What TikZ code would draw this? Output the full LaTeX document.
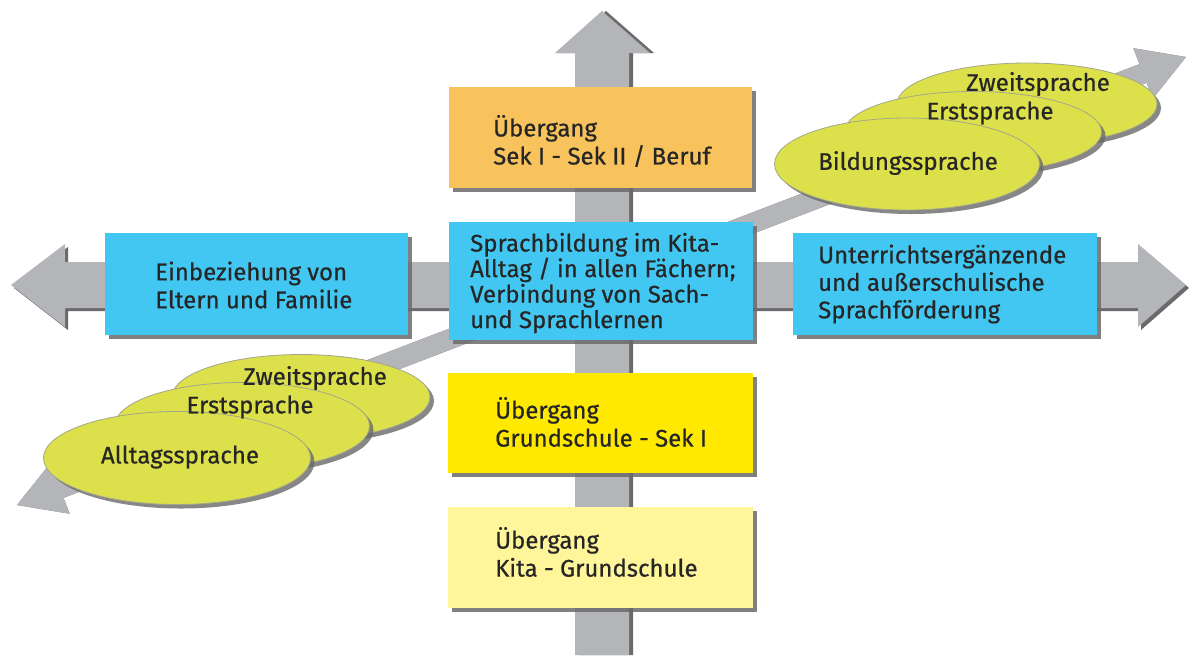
\documentclass[tikz,border=0pt]{standalone}
\usepackage{fontspec}
\setmainfont[FakeBold=0.6]{Fira Sans}
\usetikzlibrary{calc,shadows,shapes.geometric}
\definecolor{arrc}{HTML}{B4B5B9}
\definecolor{shc}{HTML}{6A6A6A}
\definecolor{txtc}{HTML}{262626}
\definecolor{orangec}{HTML}{F8C35C}
\definecolor{cyanc}{HTML}{42C7F2}
\definecolor{yellowc}{HTML}{FFE900}
\definecolor{lightyc}{HTML}{FFF69B}
\definecolor{ellc}{HTML}{DCE04B}
\definecolor{elld}{HTML}{A4A68A}
\begin{document}
\begin{tikzpicture}[x=1pt,y=-1pt,
  txt/.style={font=\fontsize{24}{28}\selectfont, text=txtc, inner sep=0pt},
  boxtext/.style={txt, anchor=west, align=left},
  box/.style={rectangle, draw=none, inner sep=0pt,
    drop shadow={shadow xshift=4pt, shadow yshift=-4pt, fill=shc, opacity=0.85}},
  ell/.style={ellipse, draw=elld, line width=0.8pt, fill=ellc, inner sep=0pt,
    drop shadow={shadow xshift=4pt, shadow yshift=-4pt, fill=shc, opacity=0.8}},
  elltext/.style={txt}
]
\useasboundingbox[fill=white] (0,0) rectangle (1190,659);

% ---------- horizontal arrow ----------
\foreach \dx/\col in {3/shc, 0/arrc}{
  \fill[\col, shift={(\dx,\dx)}] (11,285) -- (65,244) -- (65,262) -- (1138,262) -- (1138,244)
    -- (1186,285) -- (1138,327) -- (1138,308) -- (65,308) -- (65,327) -- cycle;
}
% ---------- vertical arrow ----------
\foreach \dx/\col in {4/shc, 0/arrc}{
  \fill[\col, shift={(\dx,\dx*0)}] (575,655) -- (575,53) -- (555,53) -- (602,11) -- (650,53)
    -- (629,53) -- (629,655) -- cycle;
}
% ---------- diagonal arrow ----------
\coordinate (dA) at (17,505);
\coordinate (dB) at (1186,57);
\coordinate (hA) at ($(dA)!46pt!(dB)$);
\coordinate (hB) at ($(dB)!46pt!(dA)$);
\foreach \dx/\col in {3/shc, 0/arrc}{
  \fill[\col, shift={(\dx,\dx)}] (dA) -- ($(hA)!27pt!90:(dB)$) -- ($(hA)!10pt!90:(dB)$)
    -- ($(hB)!10pt!-90:(dA)$) -- ($(hB)!27pt!-90:(dA)$) -- (dB)
    -- ($(hB)!27pt!90:(dA)$) -- ($(hB)!10pt!90:(dA)$)
    -- ($(hA)!10pt!-90:(dB)$) -- ($(hA)!27pt!-90:(dB)$) -- cycle;
}

% ---------- boxes ----------
\node[box, fill=orangec, minimum width=303pt, minimum height=101pt] (top) at (600.5,137.5) {};
\node[boxtext] (toptext) at (493,141) {Übergang\\Sek I - Sek II / Beruf};

\node[box, fill=cyanc, minimum width=304pt, minimum height=118pt] (mid) at (601,281) {};
\node[boxtext, font=\fontsize{24}{25.5}\selectfont] (midtext) at (470,283)
  {Sprachbildung im Kita-\\Alltag / in allen Fächern;\\Verbindung von Sach-\\und Sprachlernen};

\node[box, fill=cyanc, minimum width=303pt, minimum height=102pt] (left) at (256.5,284) {};
\node[boxtext] (lefttext) at (155,285) {Einbeziehung von\\Eltern und Familie};

\node[box, fill=cyanc, minimum width=304pt, minimum height=102pt] (right) at (945,284) {};
\node[boxtext, font=\fontsize{24}{27.5}\selectfont] (righttext) at (818,284)
  {Unterrichtsergänzende\\und außerschulische\\Sprachförderung};

\node[box, fill=yellowc, minimum width=305pt, minimum height=100pt] (gs) at (600.5,423) {};
\node[boxtext] (gstext) at (495,422) {Übergang\\Grundschule - Sek I};

\node[box, fill=lightyc, minimum width=305pt, minimum height=101pt] (kita) at (600.5,557.5) {};
\node[boxtext] (kitatext) at (495,552) {Übergang\\Kita - Grundschule};

% ---------- ellipses upper right ----------
\node[ell, minimum width=260pt, minimum height=82pt] (urz) at (1027,104) {};
\node[ell, minimum width=257pt, minimum height=81pt] (ure) at (973,132) {};
\node[ell, minimum width=265pt, minimum height=92pt] (urb) at (907,164) {};

% ---------- ellipses lower left ----------
\node[ell, minimum width=258pt, minimum height=85pt] (llz) at (301,397) {};
\node[ell, minimum width=255pt, minimum height=87pt] (lle) at (242,426) {};
\node[ell, minimum width=267pt, minimum height=93pt] (lla) at (177,458) {};

% ---------- ellipse labels ----------
\node[elltext] (urztext) at (1038,84) {Zweitsprache};
\node[elltext] (uretext) at (990,113) {Erstsprache};
\node[elltext] (urbtext) at (908,163) {Bildungssprache};
\node[elltext] (llztext) at (315,378) {Zweitsprache};
\node[elltext] (lletext) at (250,407) {Erstsprache};
\node[elltext] (llatext) at (180,457) {Alltagssprache};
\end{tikzpicture}
\end{document}
